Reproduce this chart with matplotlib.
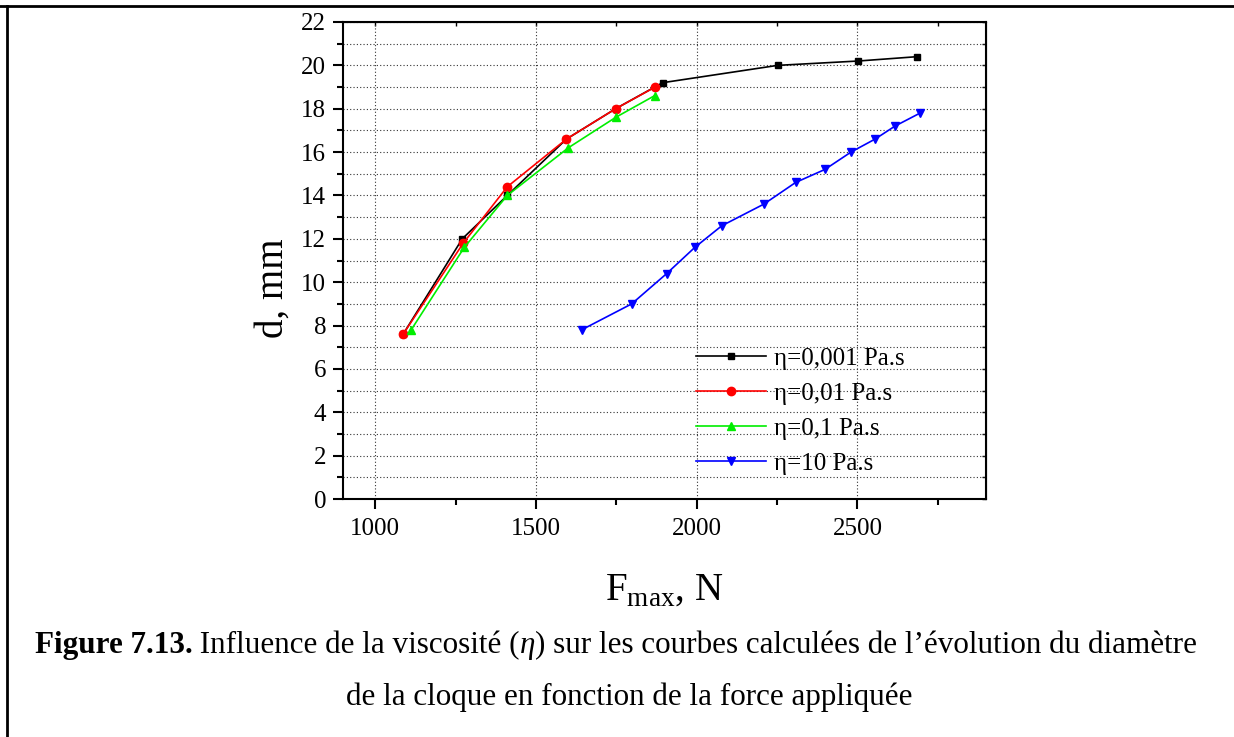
import numpy as np
import matplotlib.pyplot as plt
from matplotlib.ticker import MultipleLocator
from matplotlib.lines import Line2D

plt.rcParams['font.family'] = ['Liberation Serif', 'DejaVu Serif']
plt.rcParams['mathtext.fontset'] = 'custom'
plt.rcParams['mathtext.rm'] = 'Liberation Serif'

# eta = 0,001 Pa.s
f_001 = [1087, 1271, 1411, 1595, 1748, 1894, 2252, 2502, 2685]
d_001 = [7.6, 12.0, 14.0, 16.6, 18.0, 19.2, 20.0, 20.2, 20.4]
# eta = 0,01 Pa.s
f_01 = [1087, 1274, 1411, 1595, 1748, 1871]
d_01 = [7.6, 11.8, 14.4, 16.6, 18.0, 19.0]
# eta = 0,1 Pa.s
f_1 = [1112, 1277, 1411, 1601, 1748, 1869]
d_1 = [7.8, 11.6, 14.0, 16.2, 17.6, 18.6]
# eta = 10 Pa.s
f_10 = [1642, 1798, 1907, 1994, 2078, 2209, 2308, 2399, 2480, 2555, 2617, 2695]
d_10 = [7.8, 9.0, 10.4, 11.6, 12.6, 13.6, 14.6, 15.2, 16.0, 16.6, 17.2, 17.8]

labels = ['η=0,001 Pa.s', 'η=0,01 Pa.s', 'η=0,1 Pa.s', 'η=10 Pa.s']

W, H = 1234, 737
fig = plt.figure(figsize=(W/100, H/100), dpi=100)
ax = fig.add_axes([343/W, 1-499/H, (986-343)/W, (499-22)/H])

lw = 1.2
ax.plot(f_001, d_001, color='black', marker='s', ms=5, lw=lw, label=labels[0])
ax.plot(f_01, d_01, color='red', marker='o', ms=6, lw=lw, label=labels[1])
ax.plot(f_1, d_1, color='#00ee00', marker='^', ms=6, lw=lw, label=labels[2])
ax.plot(f_10, d_10, color='blue', marker='v', ms=6, lw=lw, label=labels[3])

ax.set_xlim(900, 2900)
ax.set_ylim(0, 22)
ax.xaxis.set_major_locator(MultipleLocator(500))
ax.xaxis.set_minor_locator(MultipleLocator(250))
ax.yaxis.set_major_locator(MultipleLocator(2))
ax.yaxis.set_minor_locator(MultipleLocator(1))

ax.grid(True, which='major', axis='x', ls=(0, (1, 2)), lw=0.8, color='#333333')
ax.grid(True, which='both', axis='y', ls=(0, (1, 2)), lw=0.8, color='#333333')
ax.set_axisbelow(True)

for s in ax.spines.values():
    s.set_linewidth(1.5)
ax.tick_params(which='major', direction='out', length=7, width=1.5, labelsize=18, pad=5)
ax.tick_params(which='minor', direction='out', length=4, width=1.5)
ax.tick_params(axis='x', which='major', pad=7)

# inward ticks on top and right
axt = ax.secondary_xaxis('top')
axt.xaxis.set_major_locator(MultipleLocator(500))
axt.xaxis.set_minor_locator(MultipleLocator(250))
axt.tick_params(which='both', direction='in', length=3, width=1, labeltop=False)
axr = ax.secondary_yaxis('right')
axr.yaxis.set_major_locator(MultipleLocator(2))
axr.yaxis.set_minor_locator(MultipleLocator(1))
axr.tick_params(which='both', direction='in', length=3, width=1, labelright=False)

ax.legend(loc='upper left', bbox_to_anchor=(0.549, 0.318), frameon=False,
          fontsize=18, handlelength=2.8, handletextpad=0.3, labelspacing=0.5,
          borderpad=0, borderaxespad=0)

fig.text(273/W, 1-288/H, 'd, mm', rotation=90, fontsize=28, ha='center', va='center')
fig.text(664/W, 1-600/H, r'F$_{\mathregular{max}}$, N', fontsize=28, ha='center', va='baseline')

# caption, line 1 assembled from pieces
cs = 22.4
pieces = [('Figure 7.13.', dict(fontweight='bold')),
          (' Influence de la viscosité (', {}),
          ('η', dict(fontstyle='italic')),
          (') sur les courbes calculées de l’évolution du diamètre', {})]
renderer = fig.canvas.get_renderer()
texts = [fig.text(0, 1-653/H, s, fontsize=cs, va='baseline', **kw) for s, kw in pieces]
widths = [t.get_window_extent(renderer).width for t in texts]
x = 616 - sum(widths)/2
for t, w in zip(texts, widths):
    t.set_x(x/W)
    x += w
fig.text(629/W, 1-705/H, 'de la cloque en fonction de la force appliquée',
         fontsize=cs, va='baseline', ha='center')

# page frame
fig.add_artist(Line2D([0, 1], [1-6/H, 1-6/H], color='black', lw=2, transform=fig.transFigure))
fig.add_artist(Line2D([7/W, 7/W], [0, 1-6/H], color='black', lw=2, transform=fig.transFigure))

fig.savefig('out.png', dpi=100)
